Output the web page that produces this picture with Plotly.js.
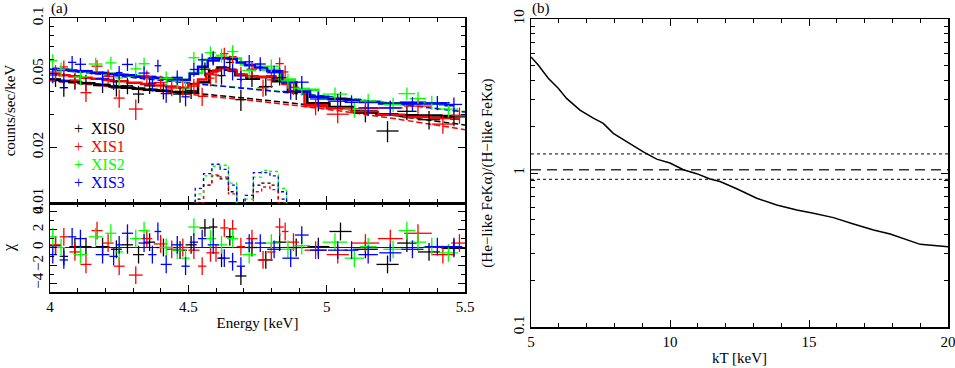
<!DOCTYPE html>
<html>
<head>
<meta charset="utf-8">
<script src="https://cdn.plot.ly/plotly-3.0.1.min.js"></script>
<style>body{margin:0;background:#fff;} #plot{width:955px;height:368px;}</style>
</head>
<body>
<div id="plot"></div>
<script>
// panel (a): XIS spectra, model and residuals
var names = ["XIS0", "XIS1", "XIS2", "XIS3"];
var colors = ["#000000", "#ff0000", "#00ff00", "#0000ff"];

// XIS0
var e0 = [4.02,4.05,4.09,4.13,4.19,4.24,4.28,4.32,4.36,4.41,4.47,4.51,4.56,4.59,4.62,4.65,4.69,4.73,4.78,4.83,4.89,4.97,5.05,5.14,5.22,5.29,5.37,5.46];
var de0 = [0.02,0.015,0.02,0.02,0.025,0.02,0.02,0.02,0.02,0.025,0.025,0.02,0.02,0.015,0.015,0.015,0.02,0.02,0.025,0.025,0.03,0.04,0.04,0.045,0.04,0.035,0.04,0.045];
var rate0 = [0.0469,0.0420,0.0455,0.0448,0.0437,0.0419,0.0430,0.0388,0.0430,0.0404,0.0388,0.0405,0.0529,0.0610,0.0488,0.0575,0.0362,0.0470,0.0426,0.0477,0.0400,0.0348,0.0365,0.0306,0.0245,0.0313,0.0282,0.0292];
var err0 = [0.0045,0.0045,0.0045,0.0045,0.0044,0.0043,0.0043,0.0042,0.0042,0.0041,0.0040,0.0040,0.0046,0.0050,0.0052,0.0051,0.0048,0.0046,0.0046,0.0045,0.0040,0.0035,0.0034,0.0033,0.0032,0.0032,0.0032,0.0032];
var chi0 = [0.2,-1.0,0.1,0.1,0.1,-0.2,0.3,-0.8,0.6,0.0,-0.3,0.3,2.2,2.3,-1.2,1.2,-3.2,0.0,-1.4,0.6,0.0,0.1,1.8,-0.2,-1.9,0.5,-0.5,-0.1];
var model0 = [0.0462,0.0457,0.0451,0.0444,0.0434,0.0426,0.0420,0.0415,0.0410,0.0404,0.0398,0.0396,0.0450,0.0515,0.0540,0.0525,0.0490,0.0470,0.0480,0.0455,0.0400,0.0345,0.0330,0.0312,0.0302,0.0298,0.0297,0.0295];

// XIS1
var e1 = [4.02,4.05,4.09,4.13,4.17,4.21,4.25,4.31,4.35,4.40,4.44,4.48,4.52,4.55,4.58,4.60,4.63,4.66,4.69,4.73,4.77,4.80,4.83,4.85,4.88,4.96,5.04,5.14,5.23,5.33,5.42,5.48];
var de1 = [0.02,0.015,0.02,0.02,0.02,0.02,0.02,0.025,0.02,0.025,0.02,0.02,0.02,0.015,0.015,0.012,0.015,0.015,0.015,0.02,0.02,0.015,0.015,0.012,0.02,0.04,0.04,0.05,0.045,0.05,0.04,0.03];
var rate1 = [0.0510,0.0544,0.0462,0.0395,0.0549,0.0483,0.0369,0.0322,0.0480,0.0448,0.0418,0.0420,0.0428,0.0377,0.0473,0.0492,0.0641,0.0618,0.0499,0.0529,0.0420,0.0463,0.0567,0.0511,0.0422,0.0331,0.0302,0.0324,0.0327,0.0334,0.0267,0.0298];
var err1 = [0.0046,0.0046,0.0045,0.0044,0.0044,0.0043,0.0042,0.0041,0.0041,0.0040,0.0040,0.0040,0.0041,0.0043,0.0046,0.0048,0.0050,0.0049,0.0046,0.0045,0.0045,0.0045,0.0044,0.0042,0.0038,0.0033,0.0032,0.0031,0.0030,0.0030,0.0030,0.0030];
var chi1 = [0.3,1.2,-0.5,-1.9,1.9,0.5,-2.1,-3.1,1.0,0.4,-0.2,0.0,-0.3,-2.1,-0.6,-0.6,2.2,2.1,0.1,1.0,-1.4,-0.5,2.3,1.8,0.6,-0.3,-0.8,0.5,1.0,1.6,-0.8,0.5];
var model1 = [0.0497,0.0491,0.0484,0.0476,0.0469,0.0462,0.0455,0.0446,0.0440,0.0432,0.0426,0.0420,0.0440,0.0465,0.0500,0.0520,0.0535,0.0520,0.0495,0.0485,0.0480,0.0485,0.0470,0.0440,0.0400,0.0340,0.0325,0.0310,0.0300,0.0292,0.0288,0.0285];

// XIS2
var e2 = [4.01,4.04,4.11,4.165,4.22,4.25,4.31,4.34,4.42,4.46,4.49,4.52,4.58,4.62,4.66,4.72,4.80,4.86,4.91,5.03,5.10,5.15,5.24,5.29,5.33,5.38,5.44];
var de2 = [0.015,0.015,0.025,0.025,0.02,0.015,0.02,0.02,0.025,0.02,0.015,0.02,0.02,0.02,0.02,0.025,0.03,0.025,0.03,0.045,0.035,0.03,0.035,0.03,0.03,0.03,0.035];
var rate2 = [0.0589,0.0527,0.0480,0.0564,0.0572,0.0474,0.0531,0.0566,0.0472,0.0454,0.0413,0.0610,0.0649,0.0629,0.0659,0.0520,0.0549,0.0457,0.0417,0.0388,0.0321,0.0356,0.0340,0.0390,0.0367,0.0349,0.0322];
var err2 = [0.0048,0.0047,0.0046,0.0046,0.0045,0.0045,0.0044,0.0043,0.0042,0.0042,0.0042,0.0045,0.0053,0.0055,0.0054,0.0050,0.0047,0.0042,0.0037,0.0033,0.0032,0.0032,0.0031,0.0031,0.0031,0.0031,0.0031];
var chi2 = [1.2,0.0,-0.8,1.2,1.6,-0.5,1.0,1.9,0.0,-0.3,-1.2,2.3,1.0,0.3,1.0,-0.8,0.5,-0.2,0.2,0.6,-1.2,0.1,-0.2,1.9,0.6,0.1,-0.6];
var model2 = [0.0532,0.0527,0.0517,0.0509,0.0500,0.0496,0.0487,0.0483,0.0472,0.0467,0.0463,0.0505,0.0595,0.0612,0.0605,0.0560,0.0525,0.0465,0.0410,0.0368,0.0360,0.0353,0.0346,0.0348,0.0348,0.0346,0.0340];

// XIS3
var e3 = [4.01,4.05,4.08,4.11,4.19,4.23,4.25,4.28,4.34,4.37,4.39,4.42,4.46,4.49,4.52,4.55,4.59,4.63,4.66,4.69,4.72,4.76,4.81,4.87,4.91,4.97,5.04,5.09,5.15,5.23,5.31,5.40,5.46];
var de3 = [0.015,0.015,0.015,0.02,0.025,0.015,0.012,0.02,0.02,0.015,0.012,0.02,0.02,0.015,0.015,0.015,0.02,0.02,0.015,0.015,0.015,0.02,0.025,0.03,0.025,0.03,0.035,0.025,0.035,0.04,0.04,0.045,0.03];
var rate3 = [0.0492,0.0459,0.0576,0.0562,0.0469,0.0453,0.0507,0.0561,0.0504,0.0444,0.0552,0.0390,0.0478,0.0375,0.0527,0.0594,0.0606,0.0541,0.0514,0.0466,0.0580,0.0564,0.0506,0.0401,0.0450,0.0365,0.0355,0.0350,0.0327,0.0326,0.0342,0.0348,0.0341];
var err3 = [0.0048,0.0047,0.0047,0.0046,0.0045,0.0045,0.0044,0.0044,0.0043,0.0043,0.0043,0.0042,0.0042,0.0042,0.0045,0.0049,0.0053,0.0055,0.0054,0.0052,0.0050,0.0049,0.0046,0.0040,0.0036,0.0034,0.0033,0.0032,0.0032,0.0031,0.0031,0.0031,0.0031];
var chi3 = [-0.8,-1.4,1.2,1.0,-0.8,-1.0,0.3,1.6,0.5,-0.8,1.8,-1.9,0.3,-2.1,0.6,1.0,0.3,-1.2,-1.6,-2.1,0.5,0.5,-0.2,-1.2,1.4,-0.3,-0.3,-0.3,-0.8,-0.6,-0.2,0.1,0.1];
var model3 = [0.0530,0.0525,0.0520,0.0516,0.0505,0.0498,0.0494,0.0490,0.0482,0.0478,0.0475,0.0470,0.0465,0.0462,0.0500,0.0545,0.0590,0.0606,0.0600,0.0575,0.0555,0.0540,0.0515,0.0450,0.0400,0.0375,0.0365,0.0360,0.0352,0.0345,0.0348,0.0345,0.0338];

// continuum (dashed)
var contE = [4.0,4.25,4.5,4.75,5.0,5.25,5.5];
var cont0 = [0.0466,0.0429,0.0395,0.0363,0.0330,0.0296,0.0264];
var cont1 = [0.0458,0.0421,0.0387,0.0355,0.0321,0.0285,0.0249];
var cont2 = [0.0530,0.0487,0.0447,0.0412,0.0378,0.0345,0.0312];
var cont3 = [0.0528,0.0485,0.0445,0.0410,0.0376,0.0343,0.0310];

// Fe line components (dotted)
var lineE = [4.51,4.54,4.57,4.60,4.63,4.66,4.69,4.72,4.75,4.78,4.81,4.84,4.87];
var line0 = [0.004,0.0105,0.0125,0.0140,0.0135,0.0115,0.006,0.0095,0.0125,0.0128,0.0125,0.0105,0.004];
var line1 = [0.004,0.0100,0.0125,0.0142,0.0138,0.0112,0.006,0.0090,0.0115,0.0122,0.0118,0.0100,0.004];
var line2 = [0.004,0.0112,0.0140,0.0158,0.0160,0.0128,0.007,0.0105,0.0138,0.0150,0.0148,0.0120,0.004];
var line3 = [0.004,0.0120,0.0144,0.0162,0.0152,0.0125,0.007,0.0110,0.0146,0.0146,0.0140,0.0115,0.004];

var zeroE = [4.0, 5.5];
var zeroChi = [0, 0];

// panel (b): line ratio vs temperature
var kT = [5,5.26,5.62,5.98,6.28,6.76,7.24,7.6,7.96,8.44,9.04,9.52,10.0,10.48,10.96,11.44,11.8,12.4,13.12,13.84,14.56,15.16,15.88,16.6,17.32,17.92,18.52,19.0,20];
var ratio = [5.67,5.02,4.12,3.55,3.05,2.56,2.27,2.10,1.81,1.60,1.37,1.23,1.16,1.05,0.99,0.914,0.88,0.79,0.685,0.62,0.575,0.547,0.513,0.467,0.426,0.402,0.371,0.344,0.332];
var kTSpan = [5, 20];
var obsRatio = [1.05, 1.05];
var obsLow = [0.91, 0.91];
var obsHigh = [1.33, 1.33];

var E = [e0, e1, e2, e3], DE = [de0, de1, de2, de3], R = [rate0, rate1, rate2, rate3];
var ERR = [err0, err1, err2, err3], CHI = [chi0, chi1, chi2, chi3], M = [model0, model1, model2, model3];
var CONT = [cont0, cont1, cont2, cont3], LINE = [line0, line1, line2, line3];

var data = [];
var i;
for (i = 0; i < 4; i++) {
  data.push({x: lineE, y: LINE[i], xaxis: "x2", yaxis: "y2", mode: "lines",
    line: {color: colors[i], width: 1.3, dash: "dot", shape: "hvh"}, showlegend: false});
}
for (i = 0; i < 4; i++) {
  data.push({x: contE, y: CONT[i], xaxis: "x2", yaxis: "y2", mode: "lines",
    line: {color: colors[i], width: 1.5, dash: "6px,3px", shape: "spline"}, showlegend: false});
}
for (i = 0; i < 4; i++) {
  data.push({x: E[i], y: M[i], xaxis: "x2", yaxis: "y2", mode: "lines",
    line: {color: colors[i], width: 2.5, shape: "hvh"}, showlegend: false});
}
for (i = 0; i < 4; i++) {
  data.push({x: E[i], y: R[i], xaxis: "x2", yaxis: "y2", mode: "markers",
    marker: {size: 1, opacity: 0}, showlegend: false,
    error_x: {type: "data", array: DE[i], width: 0, thickness: 1.3, color: colors[i]},
    error_y: {type: "data", array: ERR[i], width: 0, thickness: 1.3, color: colors[i]}});
}
for (i = 0; i < 4; i++) {
  data.push({x: zeroE, y: zeroChi, xaxis: "x", yaxis: "y", mode: "lines",
    line: {color: colors[i], width: 1}, showlegend: false});
}
for (i = 0; i < 4; i++) {
  data.push({x: E[i], y: CHI[i], xaxis: "x", yaxis: "y", mode: "markers",
    marker: {size: 1, opacity: 0}, showlegend: false,
    error_x: {type: "data", array: DE[i], width: 0, thickness: 1.3, color: colors[i]},
    error_y: {type: "constant", value: 1, width: 0, thickness: 1.3, color: colors[i]}});
}
data.push({x: kTSpan, y: obsHigh, xaxis: "x3", yaxis: "y3", mode: "lines",
  line: {color: "#000", width: 1, dash: "dot"}, showlegend: false});
data.push({x: kTSpan, y: obsLow, xaxis: "x3", yaxis: "y3", mode: "lines",
  line: {color: "#000", width: 1, dash: "dot"}, showlegend: false});
data.push({x: kTSpan, y: obsRatio, xaxis: "x3", yaxis: "y3", mode: "lines",
  line: {color: "#333", width: 1.5, dash: "10px,6px"}, showlegend: false});
data.push({x: kT, y: ratio, xaxis: "x3", yaxis: "y3", mode: "lines",
  line: {color: "#000", width: 1.5}, showlegend: false});

var serif = "Liberation Serif, serif";
function mkFont(size, color) {
  return {family: serif, size: size, color: color || "#000"};
}

function ax(extra) {
  var o = {showline: true, linecolor: "#000", linewidth: 1.5, mirror: "ticks", ticks: "inside",
    ticklen: 7, tickwidth: 1, tickcolor: "#000", showgrid: false, zeroline: false, automargin: false,
    ticklabeloverflow: "allow", tickfont: mkFont(15)};
  for (var k in extra) o[k] = extra[k];
  return o;
}

var annotations = [
  {text: "(a)", x: 49 / 955, y: 1.005, xref: "paper", yref: "paper", xanchor: "left", yanchor: "top", showarrow: false, font: mkFont(15)},
  {text: "(b)", x: 530 / 955, y: 1.005, xref: "paper", yref: "paper", xanchor: "left", yanchor: "top", showarrow: false, font: mkFont(15)}
];
for (i = 0; i < 4; i++) {
  annotations.push({text: "+ &nbsp;" + names[i], x: 72 / 955, y: 1 - (128 + 18 * i) / 368,
    xref: "paper", yref: "paper", xanchor: "left", yanchor: "middle", showarrow: false,
    font: mkFont(16, colors[i])});
}

var layout = {
  width: 955, height: 368,
  margin: {l: 0, r: 0, t: 0, b: 0},
  paper_bgcolor: "#fff", plot_bgcolor: "#fff",
  font: mkFont(15),
  showlegend: false,
  xaxis: ax({domain: [50 / 955, 465 / 955], anchor: "y", range: [4, 5.5],
    tickvals: [4, 4.5, 5, 5.5], ticktext: ["4", "4.5", "5", "5.5"],
    minor: {dtick: 0.1, ticks: "inside", ticklen: 4, tickcolor: "#000"},
    title: {text: "Energy [keV]", font: mkFont(15), standoff: 4}}),
  yaxis: ax({domain: [1 - 292 / 368, 1 - 203 / 368], anchor: "x", range: [-5, 5],
    tickvals: [-4, -2, 0, 2, 4], tickangle: -90,
    minor: {dtick: 1, ticks: "inside", ticklen: 4, tickcolor: "#000"},
    title: {text: "χ", font: mkFont(16), standoff: 12}}),
  xaxis2: ax({domain: [50 / 955, 465 / 955], anchor: "y2", range: [4, 5.5], matches: "x",
    tickvals: [4, 4.5, 5, 5.5], showticklabels: false,
    minor: {dtick: 0.1, ticks: "inside", ticklen: 4, tickcolor: "#000"}}),
  yaxis2: ax({domain: [1 - 203 / 368, 1 - 18 / 368], anchor: "x2", type: "log", range: [-2, -1],
    tickvals: [0.01, 0.02, 0.05, 0.1], ticktext: ["0.01", "0.02", "0.05", "0.1"], tickangle: -90,
    minor: {tickvals: [0.03, 0.04, 0.06, 0.07, 0.08, 0.09], ticks: "inside", ticklen: 4, tickcolor: "#000"},
    title: {text: "counts/sec/keV", font: mkFont(15), standoff: 10}}),
  xaxis3: ax({domain: [531 / 955, 948 / 955], anchor: "y3", range: [5, 20],
    tickvals: [5, 10, 15, 20],
    minor: {dtick: 1, ticks: "inside", ticklen: 4, tickcolor: "#000"},
    title: {text: "kT [keV]", font: mkFont(15), standoff: 4}}),
  yaxis3: ax({domain: [1 - 327 / 368, 1 - 19 / 368], anchor: "x3", type: "log", range: [-1, 1],
    tickvals: [0.1, 1, 10], ticktext: ["0.1", "1", "10"], tickangle: -90,
    minor: {tickvals: [0.2, 0.3, 0.4, 0.5, 0.6, 0.7, 0.8, 0.9, 2, 3, 4, 5, 6, 7, 8, 9], ticks: "inside", ticklen: 4, tickcolor: "#000"},
    title: {text: "(He−like FeKα)/(H−like FeKα)", font: mkFont(15), standoff: 14}}),
  annotations: annotations
};

Plotly.newPlot("plot", data, layout, {staticPlot: true}).then(function (gd) {
  // make sure axis text really uses the serif face
  var nodes = document.querySelectorAll("#plot text");
  for (var j = 0; j < nodes.length; j++) nodes[j].style.fontFamily = "'Liberation Serif', serif";
});
</script>
</body>
</html>
